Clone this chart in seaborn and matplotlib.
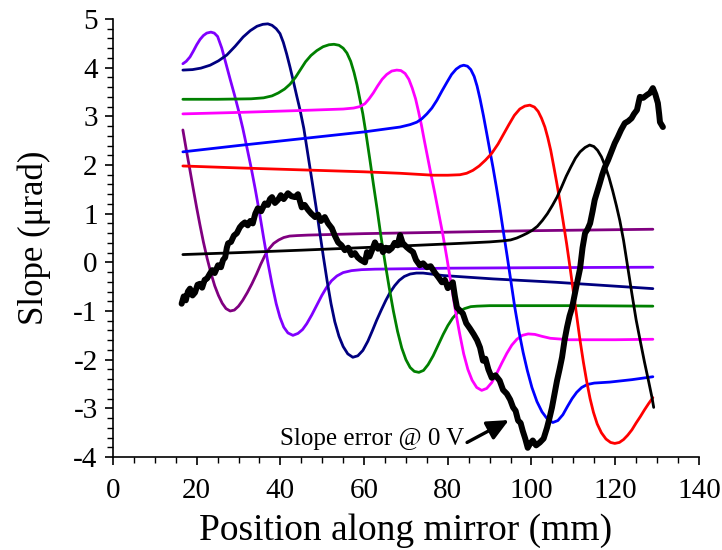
import numpy as np
import pandas as pd
import matplotlib
matplotlib.use("Agg")
import matplotlib.pyplot as plt
from matplotlib.ticker import MultipleLocator
import seaborn as sns

# ---- data ----
purple_x = [16.7, 17.5, 18.4, 19.2, 20.0, 20.8, 21.6, 22.5, 23.4, 24.3, 25.2, 26.1, 27.0, 28.0, 29.0, 30.0, 31.0, 32.1, 33.2, 34.3, 35.3, 36.3, 37.3, 38.4, 39.6, 40.8, 42.2, 44.0, 46.6, 60.0, 80.0, 100.0, 129.0]
purple_y = [2.72, 2.32, 1.89, 1.50, 1.12, 0.76, 0.42, 0.08, -0.22, -0.48, -0.68, -0.84, -0.95, -1.00, -0.98, -0.90, -0.78, -0.62, -0.44, -0.24, -0.04, 0.14, 0.28, 0.39, 0.46, 0.51, 0.54, 0.55, 0.56, 0.59, 0.62, 0.65, 0.68]

violet_x = [16.7, 17.5, 18.4, 19.2, 20.0, 20.8, 21.6, 22.4, 23.4, 24.2, 25.0, 26.0, 27.0, 28.0, 29.0, 30.0, 31.0, 32.0, 33.0, 34.0, 35.0, 36.0, 37.0, 38.0, 39.0, 39.9, 40.8, 41.8, 43.0, 44.2, 45.3, 46.3, 47.5, 48.7, 49.9, 51.0, 52.2, 53.5, 55.0, 57.0, 59.4, 62.6, 80.0, 100.0, 129.0]
violet_y = [4.08, 4.13, 4.22, 4.34, 4.47, 4.58, 4.66, 4.71, 4.73, 4.71, 4.64, 4.40, 4.08, 3.76, 3.45, 3.12, 2.76, 2.36, 1.95, 1.50, 1.02, 0.50, 0.00, -0.45, -0.85, -1.13, -1.33, -1.45, -1.50, -1.46, -1.38, -1.26, -1.08, -0.88, -0.68, -0.52, -0.38, -0.28, -0.21, -0.17, -0.15, -0.14, -0.12, -0.11, -0.10]

navy_x = [16.7, 19.0, 21.0, 23.2, 25.2, 27.2, 29.2, 31.1, 32.8, 34.4, 35.8, 37.0, 38.0, 39.0, 39.9, 40.7, 41.5, 42.3, 43.1, 43.9, 44.7, 45.6, 46.6, 47.6, 48.5, 49.4, 50.3, 51.2, 52.1, 53.0, 54.0, 55.0, 56.1, 57.3, 58.5, 59.7, 60.9, 62.0, 63.0, 64.1, 65.2, 66.2, 67.3, 68.4, 69.6, 71.0, 72.5, 74.1, 76.0, 78.8, 90.8, 106.0, 129.0]
navy_y = [3.95, 3.96, 3.99, 4.05, 4.14, 4.26, 4.44, 4.63, 4.76, 4.85, 4.89, 4.90, 4.87, 4.80, 4.70, 4.52, 4.28, 4.01, 3.72, 3.42, 3.13, 2.75, 2.20, 1.65, 1.15, 0.62, 0.10, -0.40, -0.85, -1.22, -1.52, -1.73, -1.88, -1.95, -1.92, -1.81, -1.62, -1.40, -1.19, -0.98, -0.78, -0.62, -0.48, -0.37, -0.29, -0.24, -0.22, -0.22, -0.24, -0.27, -0.34, -0.41, -0.54]

green_x = [16.7, 25.0, 33.0, 36.0, 38.0, 39.5, 41.0, 42.3, 43.6, 44.8, 46.0, 47.3, 48.7, 50.2, 51.6, 52.8, 54.0, 55.0, 55.9, 56.8, 57.6, 58.3, 59.0, 59.7, 60.5, 61.4, 62.2, 63.1, 64.0, 65.0, 66.0, 67.0, 68.0, 69.0, 70.0, 71.0, 72.0, 73.1, 74.2, 75.3, 76.5, 77.7, 78.9, 80.0, 81.2, 82.5, 84.0, 85.5, 87.0, 90.0, 110.0, 129.0]
green_y = [3.35, 3.35, 3.36, 3.38, 3.42, 3.48, 3.56, 3.66, 3.80, 3.96, 4.12, 4.25, 4.35, 4.43, 4.47, 4.48, 4.46, 4.40, 4.30, 4.13, 3.90, 3.65, 3.35, 3.05, 2.62, 2.10, 1.62, 1.10, 0.55, 0.00, -0.52, -1.00, -1.42, -1.76, -2.00, -2.16, -2.24, -2.26, -2.22, -2.10, -1.92, -1.70, -1.48, -1.30, -1.14, -1.02, -0.95, -0.91, -0.90, -0.89, -0.89, -0.90]

magenta_x = [16.7, 30.0, 45.0, 55.0, 57.5, 59.0, 60.2, 61.2, 62.2, 63.2, 64.3, 65.4, 66.6, 67.8, 68.8, 69.8, 70.7, 71.5, 72.3, 73.0, 73.7, 74.4, 75.2, 76.0, 76.9, 77.8, 78.8, 79.8, 80.8, 81.8, 82.8, 83.8, 84.8, 85.8, 86.9, 88.1, 89.3, 90.5, 91.7, 92.9, 94.1, 95.3, 96.5, 97.8, 99.2, 100.8, 102.5, 104.5, 109.0, 120.0, 129.0]
magenta_y = [3.05, 3.08, 3.12, 3.15, 3.17, 3.20, 3.26, 3.36, 3.48, 3.62, 3.76, 3.86, 3.93, 3.95, 3.94, 3.88, 3.76, 3.58, 3.36, 3.10, 2.82, 2.50, 2.15, 1.80, 1.42, 1.02, 0.58, 0.08, -0.45, -0.98, -1.45, -1.88, -2.20, -2.42, -2.57, -2.63, -2.59, -2.47, -2.28, -2.07, -1.87, -1.70, -1.58, -1.50, -1.47, -1.48, -1.52, -1.56, -1.59, -1.59, -1.58]

blue_x = [16.7, 30.0, 45.0, 60.0, 68.6, 71.0, 72.6, 73.8, 75.0, 76.2, 77.4, 78.6, 79.8, 80.9, 82.0, 83.0, 83.8, 84.7, 85.5, 86.3, 87.0, 87.7, 88.5, 89.3, 90.0, 90.8, 91.6, 92.4, 93.3, 94.2, 95.1, 96.0, 97.0, 98.0, 99.0, 100.1, 101.3, 102.5, 103.8, 105.1, 106.3, 107.5, 108.6, 109.7, 110.8, 112.0, 113.3, 115.0, 118.7, 124.0, 129.0]
blue_y = [2.27, 2.40, 2.54, 2.68, 2.78, 2.83, 2.88, 2.95, 3.05, 3.17, 3.33, 3.52, 3.70, 3.86, 3.97, 4.03, 4.05, 4.03, 3.96, 3.82, 3.62, 3.36, 3.02, 2.65, 2.32, 1.95, 1.55, 1.13, 0.62, 0.12, -0.40, -0.92, -1.42, -1.85, -2.22, -2.57, -2.86, -3.07, -3.22, -3.29, -3.25, -3.13, -2.96, -2.80, -2.67, -2.57, -2.51, -2.48, -2.46, -2.41, -2.35]

red_x = [16.7, 30.0, 45.0, 60.0, 68.6, 76.5, 80.0, 82.9, 84.5, 86.0, 87.5, 89.0, 90.5, 92.0, 93.3, 94.6, 95.9, 97.2, 98.4, 99.6, 100.7, 101.6, 102.4, 103.2, 103.9, 104.6, 105.3, 106.0, 106.8, 107.6, 108.4, 109.2, 110.0, 110.8, 111.6, 112.4, 113.2, 114.0, 114.8, 115.7, 116.7, 117.8, 118.9, 119.9, 121.0, 122.0, 123.0, 124.0, 125.0, 126.0, 127.0, 128.0, 129.0]
red_y = [1.98, 1.94, 1.90, 1.86, 1.83, 1.79, 1.79, 1.80, 1.83, 1.89, 1.98, 2.10, 2.24, 2.43, 2.63, 2.83, 3.02, 3.15, 3.21, 3.23, 3.19, 3.10, 2.96, 2.78, 2.56, 2.30, 1.98, 1.65, 1.25, 0.82, 0.38, -0.10, -0.60, -1.10, -1.60, -2.05, -2.45, -2.80, -3.08, -3.32, -3.50, -3.63, -3.70, -3.72, -3.70, -3.64, -3.55, -3.44, -3.30, -3.17, -3.03, -2.90, -2.78]

black_x = [16.7, 30.0, 45.0, 61.8, 70.0, 82.9, 90.0, 93.0, 95.0, 96.5, 97.8, 99.0, 100.2, 101.4, 102.6, 103.8, 105.0, 106.1, 107.2, 108.3, 109.4, 110.5, 111.6, 112.8, 113.9, 114.9, 115.8, 116.7, 117.6, 118.5, 119.4, 120.3, 121.1, 122.0, 123.0, 124.0, 125.0, 126.0, 127.0, 128.0, 128.8, 129.2]
black_y = [0.16, 0.20, 0.25, 0.31, 0.34, 0.39, 0.42, 0.44, 0.46, 0.50, 0.55, 0.60, 0.66, 0.74, 0.86, 1.00, 1.17, 1.34, 1.55, 1.77, 1.96, 2.14, 2.27, 2.36, 2.41, 2.38, 2.30, 2.17, 1.98, 1.75, 1.47, 1.16, 0.86, 0.45, -0.10, -0.65, -1.18, -1.62, -2.05, -2.45, -2.78, -2.98]

err_x = [16.4, 16.9, 17.4, 17.9, 18.4, 19.0, 19.6, 20.2, 20.8, 21.3, 21.9, 22.5, 23.1, 23.7, 24.3, 25.1, 25.8, 26.3, 26.8, 27.2, 27.5, 28.2, 28.9, 29.6, 30.3, 30.9, 31.5, 32.2, 32.8, 33.4, 34.0, 34.6, 35.4, 36.3, 37.0, 37.5, 38.0, 38.7, 39.4, 40.1, 40.8, 41.8, 42.6, 43.5, 44.2, 45.1, 45.8, 46.6, 47.4, 48.3, 49.0, 49.7, 50.6, 51.4, 52.3, 53.0, 53.8, 54.6, 55.4, 56.2, 57.0, 57.8, 58.5, 59.2, 60.2, 60.7, 61.3, 61.9, 62.6, 63.3, 64.0, 64.5, 65.2, 65.9, 66.6, 67.3, 68.0, 68.6, 69.2, 70.2, 70.9, 71.7, 72.4, 73.3, 74.1, 75.0, 75.9, 76.9, 77.7, 78.6, 79.3, 80.0, 80.6, 81.2, 81.7, 82.2, 82.9, 83.6, 84.4, 85.3, 86.2, 87.0, 87.7, 88.4, 89.0, 89.7, 90.5, 91.4, 92.4, 93.2, 94.1, 94.9, 95.6, 96.2, 96.8, 97.4, 97.9, 98.5, 99.1, 99.7, 100.3, 101.1, 102.0, 102.9, 103.7, 104.3, 104.9, 105.5, 106.1, 106.7, 107.3, 107.9, 108.5, 109.1, 109.7, 110.7, 111.6, 112.2, 112.8, 113.4, 114.0, 114.6, 115.1, 115.7, 116.3, 116.9, 117.5, 118.3, 119.2, 119.9, 120.6, 121.4, 122.3, 123.1, 123.9, 124.5, 125.2, 125.9, 126.7, 127.6, 128.3, 129.0, 129.6, 130.2, 130.5, 130.7, 131.4]
err_y = [-0.85, -0.70, -0.78, -0.60, -0.54, -0.68, -0.62, -0.46, -0.44, -0.52, -0.36, -0.33, -0.24, -0.16, -0.22, -0.06, -0.10, 0.05, 0.10, 0.30, 0.39, 0.42, 0.55, 0.60, 0.72, 0.78, 0.82, 0.76, 0.85, 0.80, 1.00, 1.11, 1.05, 1.21, 1.18, 1.30, 1.34, 1.22, 1.28, 1.38, 1.30, 1.42, 1.36, 1.34, 1.40, 1.13, 1.18, 1.08, 1.00, 0.93, 0.98, 0.85, 0.93, 0.80, 0.70, 0.55, 0.41, 0.35, 0.25, 0.30, 0.15, 0.19, 0.10, 0.05, 0.00, 0.21, 0.12, 0.25, 0.41, 0.28, 0.34, 0.21, 0.30, 0.24, 0.29, 0.40, 0.35, 0.56, 0.40, 0.31, 0.26, 0.21, 0.05, -0.06, -0.02, -0.10, -0.08, -0.21, -0.30, -0.41, -0.36, -0.53, -0.48, -0.41, -0.70, -0.93, -0.99, -1.05, -1.25, -1.36, -1.48, -1.60, -1.75, -2.02, -1.98, -2.20, -2.37, -2.32, -2.43, -2.62, -2.70, -2.82, -2.98, -3.05, -3.25, -3.30, -3.46, -3.62, -3.81, -3.72, -3.66, -3.76, -3.70, -3.62, -3.40, -3.20, -2.98, -2.70, -2.43, -2.20, -1.95, -1.60, -1.33, -1.10, -0.93, -0.50, -0.13, 0.30, 0.60, 0.68, 0.80, 1.05, 1.28, 1.45, 1.62, 1.80, 1.95, 2.10, 2.30, 2.45, 2.57, 2.72, 2.86, 2.90, 2.96, 3.05, 3.13, 3.40, 3.38, 3.44, 3.48, 3.58, 3.45, 3.27, 3.05, 2.88, 2.78]

x_ticks = [0, 20, 40, 60, 80, 100, 120, 140]
y_ticks = [-4, -3, -2, -1, 0, 1, 2, 3, 4, 5]
x_label = "Position along mirror (mm)"
y_label = "Slope (\u03bcrad)"
note = "Slope error @ 0 V"

# ---- style ----
sns.set_style("ticks")
plt.rcParams['font.family'] = ['Liberation Serif', 'DejaVu Serif']
plt.rcParams['text.color'] = 'black'
plt.rcParams['axes.labelcolor'] = 'black'
plt.rcParams['xtick.color'] = 'black'
plt.rcParams['ytick.color'] = 'black'

fig = plt.figure(figsize=(7.22, 5.5), dpi=100)
ax = fig.add_axes([0.1565, 0.169, 0.8115, 0.7965])

curves = [
    ("purple", purple_x, purple_y, "#800080"),
    ("violet", violet_x, violet_y, "#8000FF"),
    ("navy", navy_x, navy_y, "#000080"),
    ("green", green_x, green_y, "#008000"),
    ("magenta", magenta_x, magenta_y, "#FF00FF"),
    ("blue", blue_x, blue_y, "#0000FF"),
    ("red", red_x, red_y, "#FF0000"),
    ("black", black_x, black_y, "#000000"),
]
frames = []
for name, xs, ys, _ in curves:
    frames.append(pd.DataFrame({"x": xs, "y": ys, "curve": name}))
df = pd.concat(frames, ignore_index=True)
palette = {name: c for name, _, _, c in curves}

sns.lineplot(data=df, x="x", y="y", hue="curve", palette=palette,
             estimator=None, sort=False, linewidth=2.0, legend=False, ax=ax)

err = pd.DataFrame({"x": err_x, "y": err_y})
sns.lineplot(data=err, x="x", y="y", color="black", estimator=None, sort=False,
             linewidth=4.3, legend=False, ax=ax)

# annotation: text and separate arrow
ax.text(84.0, -3.62, note, ha="right", va="center", fontsize=18, color="black")
ax.annotate("", xy=(94.6, -3.24), xytext=(84.6, -3.70),
            arrowprops=dict(arrowstyle="-|>,head_length=1.3,head_width=0.6",
                            color="black", lw=2.4, shrinkA=0, shrinkB=0))

ax.set_xlim(0, 140)
ax.set_ylim(-4, 5)
ax.set_xticks(x_ticks)
ax.set_yticks(y_ticks)
ax.set_xticklabels([str(v) for v in x_ticks])
ax.set_yticklabels([str(v) for v in y_ticks])
ax.xaxis.set_minor_locator(MultipleLocator(5))
ax.yaxis.set_minor_locator(MultipleLocator(0.2))
ax.tick_params(which="major", direction="out", length=6, width=1.2, labelsize=21, colors="black")
ax.tick_params(axis="x", which="major", pad=9)
ax.tick_params(axis="y", which="major", pad=5)
ax.tick_params(which="minor", direction="out", length=4, width=1.0, colors="black")
for s in ["top", "right"]:
    ax.spines[s].set_visible(False)
for s in ["left", "bottom"]:
    ax.spines[s].set_linewidth(1.2)
    ax.spines[s].set_color("black")

ax.set_xlabel(x_label, fontsize=27, labelpad=7, color="black")
ax.set_ylabel(y_label, fontsize=25, labelpad=16, color="black")

fig.savefig("out.png", dpi=100)
